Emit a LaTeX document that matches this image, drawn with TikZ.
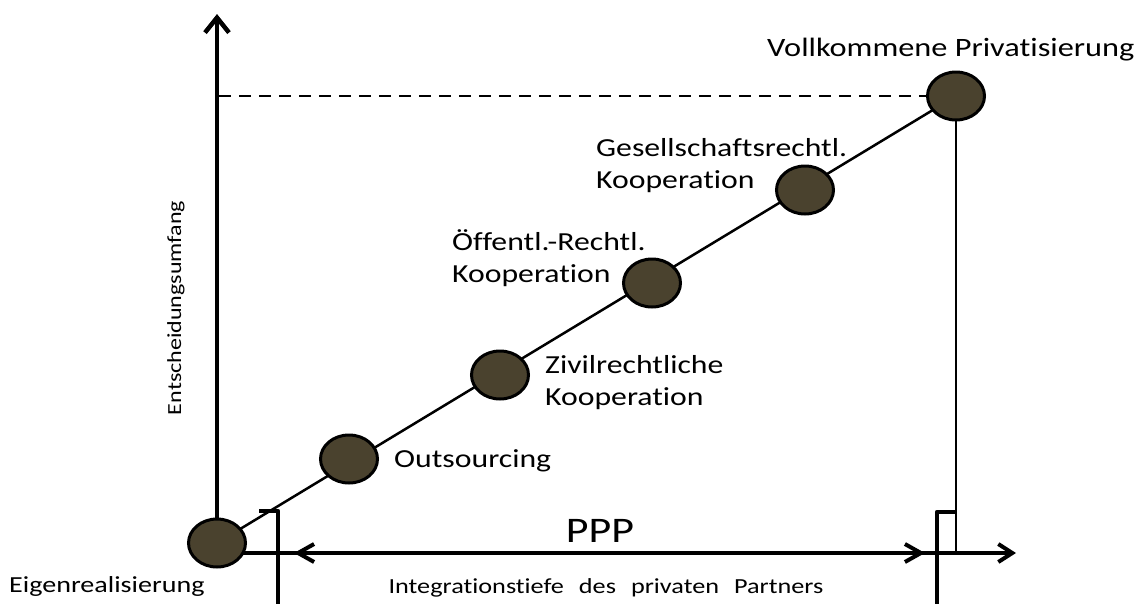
\documentclass[tikz,border=0pt]{standalone}
\usepackage{graphicx}
\usepackage{fontspec}
\setmainfont[FakeStretch=1.22,Ligatures={NoCommon}]{Carlito}
\newfontfamily\plainfont[Ligatures={NoCommon}]{Carlito}
\usetikzlibrary{shapes.geometric,arrows.meta}
\definecolor{dotfill}{RGB}{74,66,46}
\pgfdeclarelayer{bg}
\pgfsetlayers{bg,main}
\begin{document}
\begin{tikzpicture}[x=1pt,y=-1pt,
  dot/.style={ellipse, draw=black, line width=3pt, fill=dotfill,
    minimum width=57pt, minimum height=48pt, inner sep=0pt},
  lbl/.style={font=\fontsize{26}{32}\selectfont, inner sep=0pt, align=left},
  axisline/.style={line width=4pt, line cap=round},
  barline/.style={line width=4.5pt, line join=round},
  thinline/.style={line width=2.5pt},
  yarrow/.style={-{Straight Barb[length=15pt,width=24pt]}},
  xarrow/.style={-{Straight Barb[length=14pt,width=18pt]}},
  pparrow/.style={{Straight Barb[length=16pt,width=18pt]}-{Straight Barb[length=16pt,width=18pt]}}
]
\useasboundingbox (0,0) rectangle (1141,603);

% circles
\node[dot] (d0) at (217,543) {};
\node[dot] (d1) at (349,459) {};
\node[dot] (d2) at (500,375) {};
\node[dot] (d3) at (652,283) {};
\node[dot] (d4) at (805,190) {};
\node[dot] (d5) at (956,96) {};

% helper coordinates
\coordinate (ytip) at (217,14);
\coordinate (xtip) at (1016,553);
\coordinate (pppL) at (294,553);
\coordinate (pppR) at (925,553);
\coordinate (dashL) at (219,96);
\coordinate (lbarHook) at (259,511);
\coordinate (lbarTop) at (278,511);
\coordinate (lbarBot) at (278,606);
\coordinate (rbarHook) at (956,512);
\coordinate (rbarTop) at (937,512);
\coordinate (rbarBot) at (937,606);

\begin{pgfonlayer}{bg}
  \draw[thinline] (d0.center) -- (d5.center);
  \draw[line width=4.5pt, yarrow] (d0.center) -- (ytip);
  \draw[axisline, xarrow] (d0.center |- xtip) -- (xtip);
  \draw[line width=2pt, dash pattern=on 12pt off 8pt] (dashL) -- (d5.center);
  \draw[thinline] (d5.center) -- (d5.center |- xtip);
\end{pgfonlayer}

\draw[axisline, pparrow] (pppL) -- (pppR);
\draw[barline] (lbarHook) -- (lbarTop) -- (lbarBot);
\draw[barline] (rbarBot) -- (rbarTop) -- (rbarHook);

% labels
\node[lbl, font=\fontsize{23}{28}\selectfont, anchor=base west] (l0) at (9,592) {Eigenrealisierung};
\node[lbl, anchor=base west] (l1) at (394,467) {Outsourcing};
\node[lbl, anchor=west] (l2) at (545,383) {Zivilrechtliche\\Kooperation};
\node[lbl, anchor=west] (l3) at (452,258) {Öffentl.-Rechtl.\\Kooperation};
\node[lbl, anchor=west] (l4) at (596,166) {Gesellschaftsrechtl.\\Kooperation};
\node[lbl, font=\fontsize{26.5}{32}\selectfont, anchor=base west] (l5) at (767,56) {Vollkommene Privatisierung};
\node[inner sep=0pt, font=\fontsize{36}{40}\selectfont, anchor=base] (ppp) at (600,542) {PPP};
\node[inner sep=0pt, font=\fontsize{21.5}{26}\selectfont, anchor=base] (integ) at (606,593)
  {Integrationstiefe\hspace*{15pt}des\hspace*{15pt}privaten\hspace*{15pt}Partners};
\node[inner sep=0pt, rotate=90] (ent) at (176,308)
  {\scalebox{1.2}[1]{\plainfont\fontsize{20}{24}\selectfont Entscheidungsumfang}};
\end{tikzpicture}
\end{document}
